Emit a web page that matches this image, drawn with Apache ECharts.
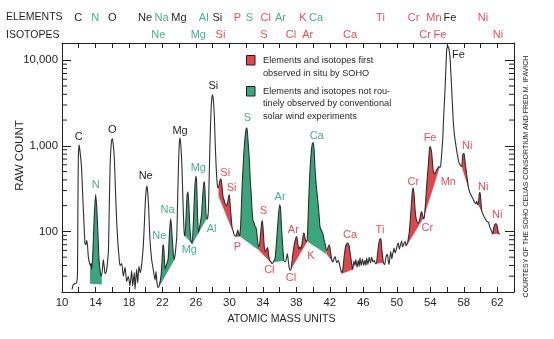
<!DOCTYPE html>
<html>
<head>
<meta charset="utf-8">
<script src="https://cdn.jsdelivr.net/npm/echarts@6/dist/echarts.min.js"></script>
<style>
  html, body { margin: 0; padding: 0; background: #fff; }
  #chart { width: 554px; height: 339px; }
</style>
</head>
<body>
<div id="chart"></div>
<script>
// Solar-wind mass spectrum: [atomic mass units, raw count]
const spectrum = [
  [11.20, 21], [11.35, 24], [11.55, 24.5], [11.75, 25], [11.85, 32], [11.90, 200], [11.95, 700],
  [12.03, 1030], [12.10, 950], [12.25, 700], [12.35, 520], [12.45, 300], [12.55, 180], [12.65, 110],
  [12.75, 72], [12.85, 70], [12.95, 78], [13.05, 68], [13.15, 50], [13.30, 42], [13.40, 40],
  [13.48, 42], [13.55, 36], [13.70, 60], [13.85, 150], [14.02, 270], [14.15, 190], [14.30, 90],
  [14.42, 47], [14.55, 35], [14.66, 30], [14.80, 34], [14.94, 47], [15.05, 38], [15.15, 32],
  [15.30, 34], [15.45, 45], [15.55, 60], [15.65, 200], [15.75, 600], [15.88, 1050], [16.00, 1220],
  [16.12, 1050], [16.25, 720], [16.40, 280], [16.55, 120], [16.68, 72], [16.81, 51], [16.93, 40],
  [17.13, 42], [17.33, 30], [17.53, 38], [17.73, 26], [17.92, 30], [18.12, 23], [18.32, 35],
  [18.44, 23], [18.64, 33], [18.72, 21], [18.92, 36], [19.04, 25], [19.20, 39], [19.35, 33],
  [19.52, 41], [19.71, 67], [19.85, 130], [19.95, 220], [20.08, 320], [20.16, 340], [20.25, 280],
  [20.35, 190], [20.51, 80], [20.71, 47], [20.90, 36], [21.11, 27], [21.23, 34], [21.35, 25],
  [21.50, 22], [21.65, 24], [21.83, 30], [21.95, 45], [22.05, 68], [22.12, 70], [22.22, 50],
  [22.32, 36], [22.45, 40], [22.60, 44], [22.70, 50], [22.85, 100], [22.99, 140], [23.08, 115],
  [23.18, 80], [23.30, 55], [23.38, 47], [23.50, 52], [23.62, 68], [23.72, 90], [23.82, 250],
  [23.92, 600], [24.02, 1100], [24.10, 1230], [24.20, 1000], [24.32, 600], [24.45, 230], [24.55, 120],
  [24.62, 92], [24.70, 88], [24.82, 150], [24.95, 270], [25.05, 290], [25.15, 210], [25.28, 110],
  [25.40, 80], [25.55, 72], [25.70, 130], [25.85, 300], [25.98, 440], [26.08, 380], [26.20, 150],
  [26.30, 96], [26.42, 110], [26.55, 130], [26.68, 160], [26.82, 270], [26.95, 370], [27.02, 380],
  [27.12, 250], [27.25, 140], [27.35, 140], [27.48, 170], [27.58, 400], [27.68, 1070], [27.80, 2500],
  [27.90, 3600], [28.00, 3940], [28.10, 3300], [28.20, 2200], [28.30, 1100], [28.40, 620], [28.52, 380],
  [28.62, 320], [28.75, 340], [28.88, 400], [29.00, 410], [29.12, 330], [29.25, 250], [29.36, 234],
  [29.50, 210], [29.65, 200], [29.80, 220], [29.92, 260], [30.00, 268], [30.10, 200], [30.20, 150],
  [30.30, 115], [30.45, 100], [30.60, 90], [30.75, 88], [30.90, 95], [31.00, 104], [31.10, 95],
  [31.22, 88], [31.35, 120], [31.50, 300], [31.68, 690], [31.85, 1200], [32.00, 1580], [32.07, 1610],
  [32.15, 1450], [32.25, 1050], [32.38, 690], [32.50, 380], [32.60, 280], [32.70, 180], [32.80, 137],
  [32.95, 125], [33.06, 114], [33.18, 110], [33.26, 100], [33.38, 75], [33.50, 66], [33.62, 72],
  [33.75, 100], [33.85, 125], [33.93, 134], [34.02, 110], [34.12, 75], [34.20, 62], [34.30, 58],
  [34.45, 62], [34.57, 65], [34.70, 52], [34.85, 45], [34.97, 44], [35.10, 42], [35.25, 44],
  [35.45, 48], [35.65, 80], [35.85, 150], [36.00, 205], [36.10, 190], [36.25, 100], [36.37, 67],
  [36.50, 46], [36.62, 44], [36.76, 46], [36.92, 55], [37.05, 44], [37.16, 37], [37.28, 35],
  [37.40, 38], [37.55, 52], [37.75, 70], [37.90, 82], [38.04, 87], [38.15, 75], [38.28, 62],
  [38.42, 66], [38.55, 62], [38.70, 75], [38.82, 92], [38.92, 96], [39.05, 82], [39.18, 76],
  [39.30, 80], [39.45, 200], [39.62, 500], [39.80, 900], [39.92, 1060], [40.02, 1094], [40.12, 900],
  [40.22, 560], [40.35, 367], [40.50, 260], [40.63, 195], [40.75, 140], [40.82, 114], [41.00, 102],
  [41.14, 96], [41.28, 82], [41.42, 73], [41.55, 62], [41.65, 60], [41.80, 66], [41.94, 70],
  [42.08, 58], [42.22, 47], [42.35, 44], [42.50, 48], [42.62, 51], [42.82, 43], [43.02, 46],
  [43.21, 39], [43.41, 33], [43.55, 36], [43.72, 52], [43.90, 68], [44.05, 72], [44.14, 73],
  [44.30, 68], [44.40, 58], [44.49, 51], [44.60, 42], [44.73, 36], [44.88, 45], [45.00, 40],
  [45.10, 47], [45.25, 38], [45.40, 46], [45.50, 39], [45.60, 49], [45.75, 40], [45.90, 48],
  [46.05, 40], [46.20, 46], [46.30, 40], [46.40, 49], [46.55, 41], [46.70, 50], [46.85, 43],
  [47.00, 50], [47.15, 44], [47.30, 46], [47.45, 42], [47.55, 42], [47.70, 55], [47.85, 72],
  [48.00, 82], [48.11, 81], [48.22, 60], [48.40, 43], [48.55, 41], [48.70, 50], [48.87, 54],
  [49.00, 44], [49.07, 41], [49.18, 50], [49.27, 58], [49.40, 48], [49.52, 55], [49.67, 64],
  [49.80, 56], [49.95, 62], [50.08, 70], [50.18, 73], [50.30, 62], [50.45, 70], [50.58, 77],
  [50.70, 66], [50.85, 72], [51.00, 76], [51.10, 68], [51.18, 70], [51.30, 75], [51.50, 100],
  [51.70, 180], [51.85, 290], [51.97, 321], [52.08, 260], [52.18, 180], [52.26, 150], [52.40, 130],
  [52.57, 125], [52.75, 140], [52.90, 165], [52.97, 171], [53.08, 155], [53.20, 140], [53.30, 150],
  [53.45, 230], [53.60, 380], [53.77, 600], [53.90, 920], [53.97, 980], [54.07, 930], [54.17, 820],
  [54.28, 600], [54.36, 502], [54.46, 470], [54.56, 480], [54.66, 500], [54.76, 524], [54.90, 550],
  [55.00, 570], [55.07, 575], [55.15, 560], [55.25, 600], [55.38, 850], [55.48, 1175], [55.60, 2200],
  [55.76, 4500], [55.88, 9000], [55.96, 13200], [56.05, 14400], [56.15, 14500], [56.25, 13000],
  [56.36, 10900], [56.46, 7000], [56.56, 4500], [56.66, 2800], [56.76, 1840], [56.90, 1300],
  [57.08, 980], [57.22, 800], [57.35, 687], [57.45, 630], [57.55, 600], [57.65, 580], [57.75, 574],
  [57.87, 770], [57.95, 810], [58.03, 820], [58.12, 700], [58.27, 524], [58.40, 420], [58.54, 335],
  [58.65, 300], [58.75, 280], [58.94, 260], [59.05, 245], [59.14, 234], [59.28, 220], [59.42, 210],
  [59.50, 218], [59.55, 225], [59.62, 210], [59.70, 205], [59.78, 230], [59.86, 280], [59.95, 285],
  [60.05, 220], [60.14, 175], [60.28, 160], [60.42, 150], [60.58, 140], [60.74, 131], [60.94, 128],
  [61.14, 110], [61.34, 100], [61.45, 93], [61.58, 110], [61.70, 120], [61.82, 123], [61.95, 120],
  [62.05, 108], [62.13, 96], [62.33, 93]
];

// Shaded bands under the trace: [start mass, floor count at start, end mass, floor count at end]
const firstSeenBands = [
  [28.70, 260, 30.30, 105], [30.75, 86, 31.22, 88], [33.55, 60, 34.95, 43],
  [37.28, 35, 39.28, 75], [41.62, 54, 42.40, 43], [43.45, 32, 44.75, 36],
  [47.50, 42, 48.40, 43], [51.25, 70, 53.22, 145], [53.22, 145, 55.12, 560],
  [57.75, 574, 58.85, 256], [59.72, 205, 60.35, 155], [61.45, 93, 62.25, 94]
];
const notRoutineBands = [
  [13.35, 24.5, 14.75, 24], [21.50, 21.5, 23.45, 47], [24.62, 90, 25.55, 71],
  [25.55, 71, 27.45, 150], [31.22, 88, 33.55, 60], [35.35, 44, 36.52, 45],
  [39.30, 76, 41.62, 54]
];

// Peak annotations: symbol, anchor mass, anchor count, class (k plain, r first seen, g not routine)
const peakNames  = ['C', 'N', 'O', 'Ne', 'Ne', 'Na', 'Mg', 'Mg', 'Mg', 'Al', 'Si', 'Si', 'Si', 'P', 'S', 'S',
                    'Cl', 'Ar', 'Cl', 'Ar', 'K', 'Ca', 'Ca', 'Ti', 'Cr', 'Cr', 'Fe', 'Mn', 'Fe', 'Ni', 'Ni', 'Ni'];
const peakMass   = [12.0, 14.02, 16.0, 20.0, 21.62, 22.6, 24.1, 26.28, 25.21, 27.88, 28.08, 29.5, 30.27, 30.95, 32.14, 34.05,
                    34.77, 36.05, 37.36, 37.64, 39.75, 40.43, 44.41, 47.99, 51.97, 53.64, 53.97, 56.15, 57.35, 58.42, 60.33, 62.0];
const peakCount  = [1280, 345, 1530, 439, 89, 176, 1510, 550, 60, 107, 5000, 485, 320, 66, 2100, 174,
                    35, 256, 28.6, 105, 52, 1300, 90, 105, 383, 110, 1250, 383, 11500, 1000, 335, 157];
const peakClass  = ['k', 'g', 'k', 'k', 'g', 'g', 'k', 'g', 'g', 'g', 'k', 'r', 'r', 'r', 'g', 'r',
                    'r', 'g', 'r', 'r', 'r', 'g', 'r', 'r', 'r', 'r', 'r', 'r', 'k', 'r', 'r', 'r'];

// Header rows
const elementNames  = ['C', 'N', 'O', 'Ne', 'Na', 'Mg', 'Al', 'Si', 'P', 'S', 'Cl', 'Ar', 'K', 'Ca', 'Ti', 'Cr', 'Mn', 'Fe', 'Ni'];
const elementClass  = ['k', 'g', 'k', 'k', 'g', 'k', 'g', 'k', 'r', 'g', 'r', 'g', 'r', 'g', 'r', 'r', 'r', 'k', 'r'];
const isotopeNames  = ['Ne', 'Mg', 'Si', 'S', 'Cl', 'Ar', 'Ca', 'Cr', 'Fe', 'Ni'];
const isotopeClass  = ['g', 'g', 'r', 'r', 'r', 'r', 'r', 'r', 'r', 'r'];

// Axis ticks
const majorTickText = { 100: '100', 1000: '1,000', 10000: '10,000' };
const minorCountTicks = [30, 40, 50, 60, 70, 80, 90, 200, 300, 400, 500, 600, 700, 800, 900,
                         2000, 3000, 4000, 5000, 6000, 7000, 8000, 9000];

// ---- layout & style ----
const FONT = '"Liberation Sans", Arial, sans-serif';
const INK = '#231f20';
const FILL = { r: '#e0464c', g: '#3aa57e' };
const TEXT = { k: INK, r: '#ea4f59', g: '#46b08c' };
const elementX = [78.3, 95.3, 112.3, 145, 161.5, 179, 203.7, 217.3, 237.5, 249.3, 265.8, 280.5, 303, 316, 380.5, 413.5, 434, 450, 483];
const isotopeX = [158.3, 198.3, 220.5, 264, 291, 307.7, 350, 425, 440, 498];
const X_MIN = 10, X_MAX = 64, Y_MIN = 19.6, Y_MAX = 15900;

// count on the trace at a given mass (linear in log space between samples)
function traceAt(m) {
  for (let i = 0; i < spectrum.length - 1; i++) {
    const a = spectrum[i], b = spectrum[i + 1];
    if (m >= a[0] && m <= b[0]) {
      const t = (m - a[0]) / (b[0] - a[0]);
      return Math.pow(10, Math.log10(a[1]) * (1 - t) + Math.log10(b[1]) * t);
    }
  }
  return spectrum[spectrum.length - 1][1];
}

function bandRenderer(color) {
  return function (params, api) {
    const xa = api.value(0), ya = api.value(1), xb = api.value(2), yb = api.value(3);
    const pts = [api.coord([xa, ya]), api.coord([xa, traceAt(xa)])];
    spectrum.forEach(p => { if (p[0] > xa && p[0] < xb) pts.push(api.coord(p)); });
    pts.push(api.coord([xb, traceAt(xb)]));
    pts.push(api.coord([xb, yb]));
    return { type: 'polygon', shape: { points: pts }, style: { fill: color } };
  };
}

const legendRed = 'Elements and isotopes first\nobserved in situ by SOHO';
const legendGreen = 'Elements and isotopes not rou-\ntinely observed by conventional\nsolar wind experiments';

const graphics = [];
graphics.push({ type: 'text', x: 6, y: 17.5, style: { text: 'ELEMENTS', fill: INK, fontSize: 10.5, fontFamily: FONT, verticalAlign: 'middle' } });
graphics.push({ type: 'text', x: 6, y: 35, style: { text: 'ISOTOPES', fill: INK, fontSize: 10.5, fontFamily: FONT, verticalAlign: 'middle' } });
elementNames.forEach((n, i) => graphics.push({
  type: 'text', x: elementX[i], y: 17.5,
  style: { text: n, fill: TEXT[elementClass[i]], fontSize: 11, fontFamily: FONT, align: 'center', verticalAlign: 'middle' }
}));
isotopeNames.forEach((n, i) => graphics.push({
  type: 'text', x: isotopeX[i], y: 35,
  style: { text: n, fill: TEXT[isotopeClass[i]], fontSize: 11, fontFamily: FONT, align: 'center', verticalAlign: 'middle' }
}));
// legend
graphics.push({ type: 'rect', shape: { x: 246.5, y: 55.5, width: 8.5, height: 9.5 }, style: { fill: FILL.r, stroke: INK, lineWidth: 1 } });
graphics.push({ type: 'rect', shape: { x: 246.5, y: 86.5, width: 8.5, height: 9.5 }, style: { fill: FILL.g, stroke: INK, lineWidth: 1 } });
graphics.push({ type: 'text', x: 263, y: 54.5, style: { text: legendRed, fill: INK, fontSize: 9.2, lineHeight: 12.5, fontFamily: FONT, verticalAlign: 'top' } });
graphics.push({ type: 'text', x: 263, y: 85.5, style: { text: legendGreen, fill: INK, fontSize: 9.2, lineHeight: 12.3, fontFamily: FONT, verticalAlign: 'top' } });
// axis titles and credit
graphics.push({ type: 'text', x: 281.5, y: 319.5, style: { text: 'ATOMIC MASS UNITS', fill: INK, fontSize: 10.6, fontFamily: FONT, align: 'center', verticalAlign: 'middle' } });
graphics.push({ type: 'text', x: 20, y: 155.5, rotation: Math.PI / 2, style: { text: 'RAW COUNT', fill: INK, fontSize: 11.5, fontFamily: FONT, align: 'center', verticalAlign: 'middle' } });
graphics.push({ type: 'text', x: 526, y: 176.5, rotation: Math.PI / 2, style: { text: 'COURTESY OF THE SOHO CELIAS CONSORTIUM AND FRED M. IPAVICH', fill: INK, fontSize: 7, fontFamily: FONT, align: 'center', verticalAlign: 'middle' } });

const axisLine = { show: true, lineStyle: { color: INK, width: 1 } };
const xAxisBase = { type: 'value', min: X_MIN, max: X_MAX, interval: 2, axisLine, splitLine: { show: false },
  axisTick: { show: true, inside: true, length: 5, lineStyle: { color: INK, width: 1 } } };
const yAxisBase = { type: 'log', logBase: 10, min: Y_MIN, max: Y_MAX, axisLine, splitLine: { show: false },
  axisTick: { show: true, inside: true, length: 9, lineStyle: { color: INK, width: 1 } } };

const option = {
  animation: false,
  backgroundColor: '#fff',
  grid: { left: 62, right: 40, top: 43, bottom: 47 },
  xAxis: [
    Object.assign({}, xAxisBase, { position: 'bottom',
      axisLabel: { color: INK, fontSize: 11.4, fontFamily: FONT, margin: 5,
        formatter: v => ((v - X_MIN) % 4 === 0 && v < X_MAX) ? String(v) : '' } }),
    Object.assign({}, xAxisBase, { position: 'top', axisLabel: { show: false } })
  ],
  yAxis: [
    Object.assign({}, yAxisBase, { position: 'left',
      axisLabel: { color: INK, fontSize: 11.4, fontFamily: FONT, margin: 4,
        formatter: v => majorTickText[Math.round(v)] || '' } }),
    Object.assign({}, yAxisBase, { position: 'right', axisLabel: { show: false } })
  ],
  graphic: graphics,
  series: [
    { name: legendRed, type: 'custom', renderItem: bandRenderer(FILL.r), data: firstSeenBands,
      encode: { x: [0, 2], y: [1, 3] }, z: 2, silent: true },
    { name: legendGreen, type: 'custom', renderItem: bandRenderer(FILL.g), data: notRoutineBands,
      encode: { x: [0, 2], y: [1, 3] }, z: 2, silent: true },
    { type: 'line', data: spectrum, showSymbol: false, smooth: 0.2, z: 3, silent: true,
      lineStyle: { color: '#2e2e2e', width: 1.1 } },
    { type: 'custom', data: minorCountTicks.map(v => [X_MIN, v]), z: 4, silent: true,
      encode: { x: 0, y: 1 },
      renderItem: (params, api) => {
        const l = api.coord([X_MIN, api.value(1)]);
        const r = api.coord([X_MAX, api.value(1)]);
        const st = { stroke: INK, lineWidth: 1 };
        return { type: 'group', children: [
          { type: 'line', shape: { x1: l[0], y1: l[1], x2: l[0] + 5, y2: l[1] }, style: st },
          { type: 'line', shape: { x1: r[0] - 5, y1: r[1], x2: r[0], y2: r[1] }, style: st }
        ] };
      } },
    { type: 'custom', data: peakMass.map((m, i) => [m, peakCount[i]]), z: 5, silent: true,
      encode: { x: 0, y: 1 },
      renderItem: (params, api) => {
        const p = api.coord([api.value(0), api.value(1)]);
        const i = params.dataIndex;
        return { type: 'text', x: p[0], y: p[1],
          style: { text: peakNames[i], fill: TEXT[peakClass[i]], fontSize: 11, fontFamily: FONT,
                   align: 'center', verticalAlign: 'middle' } };
      } }
  ]
};

const chart = echarts.init(document.getElementById('chart'));
chart.setOption(option);
</script>
</body>
</html>
